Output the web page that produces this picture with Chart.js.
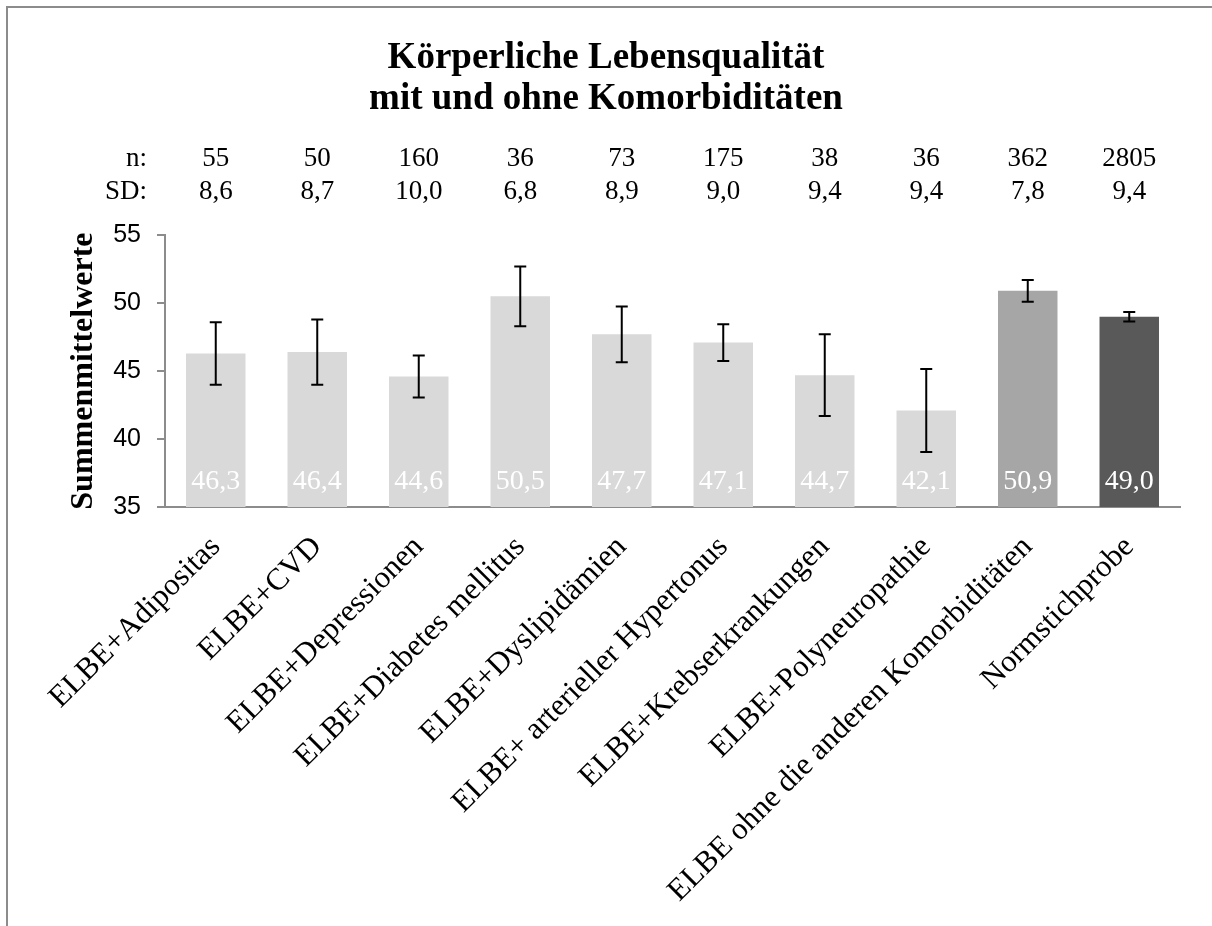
<!DOCTYPE html>
<html>
<head>
<meta charset="utf-8">
<script src="https://cdn.jsdelivr.net/npm/chart.js@4.4.1/dist/chart.umd.min.js"></script>
<style>
  html, body { margin: 0; padding: 0; background: #fff; overflow: hidden; }
</style>
</head>
<body>
<canvas id="chart" width="1212" height="926"></canvas>
<script>
'use strict';

// categories and values
const categories = [
  'ELBE+Adipositas',
  'ELBE+CVD',
  'ELBE+Depressionen',
  'ELBE+Diabetes mellitus',
  'ELBE+Dyslipidämien',
  'ELBE+ arterieller Hypertonus',
  'ELBE+Krebserkrankungen',
  'ELBE+Polyneuropathie',
  'ELBE ohne die anderen Komorbiditäten',
  'Normstichprobe'
];
const means = [46.3, 46.4, 44.6, 50.5, 47.7, 47.1, 44.7, 42.1, 50.9, 49.0];
const errors = [2.3, 2.4, 1.55, 2.2, 2.05, 1.35, 3.0, 3.05, 0.8, 0.35];
const nValues = ['55', '50', '160', '36', '73', '175', '38', '36', '362', '2805'];
const sdValues = ['8,6', '8,7', '10,0', '6,8', '8,9', '9,0', '9,4', '9,4', '7,8', '9,4'];
const yMin = 35;
const yMax = 55;
const yStep = 5;

const barColors = ['#d9d9d9', '#d9d9d9', '#d9d9d9', '#d9d9d9', '#d9d9d9',
  '#d9d9d9', '#d9d9d9', '#d9d9d9', '#a6a6a6', '#595959'];
const serif = "'Liberation Serif', 'Times New Roman', serif";
const sans = "'Liberation Sans', Arial, sans-serif";
const axisGray = '#8c8c8c';

// frame, error bars, value labels and the n / SD rows
const extras = {
  id: 'extras',
  beforeDraw(chart) {
    const ctx = chart.ctx;
    ctx.save();
    ctx.strokeStyle = axisGray;
    ctx.lineWidth = 2;
    ctx.beginPath();
    ctx.moveTo(7, chart.height);
    ctx.lineTo(7, 7);
    ctx.lineTo(chart.width, 7);
    ctx.stroke();
    ctx.restore();
  },
  afterDatasetsDraw(chart) {
    const ctx = chart.ctx;
    const y = chart.scales.y;
    const bars = chart.getDatasetMeta(0).data;
    const area = chart.chartArea;
    ctx.save();

    // error bars
    ctx.strokeStyle = '#000';
    ctx.lineWidth = 2;
    bars.forEach((bar, i) => {
      const top = y.getPixelForValue(means[i] + errors[i]);
      const bot = y.getPixelForValue(means[i] - errors[i]);
      ctx.beginPath();
      ctx.moveTo(bar.x, top);
      ctx.lineTo(bar.x, bot);
      ctx.moveTo(bar.x - 6, top);
      ctx.lineTo(bar.x + 6, top);
      ctx.moveTo(bar.x - 6, bot);
      ctx.lineTo(bar.x + 6, bot);
      ctx.stroke();
    });

    // values inside the bars
    ctx.fillStyle = '#fff';
    ctx.font = '28px ' + serif;
    ctx.textAlign = 'center';
    ctx.textBaseline = 'alphabetic';
    bars.forEach((bar, i) => {
      ctx.fillText(means[i].toFixed(1).replace('.', ','), bar.x, area.bottom - 18);
    });

    // n and SD rows above the plot
    ctx.fillStyle = '#000';
    ctx.font = '27px ' + serif;
    ctx.textBaseline = 'middle';
    bars.forEach((bar, i) => {
      ctx.fillText(nValues[i], bar.x, area.top - 76);
      ctx.fillText(sdValues[i], bar.x, area.top - 43);
    });
    ctx.textAlign = 'right';
    ctx.fillText('n:', 147, area.top - 76);
    ctx.fillText('SD:', 147, area.top - 43);
    ctx.restore();
  }
};

const ctx = document.getElementById('chart').getContext('2d');
new Chart(ctx, {
  type: 'bar',
  data: {
    labels: categories,
    datasets: [{
      data: means,
      backgroundColor: barColors,
      borderWidth: 0,
      barPercentage: 0.586,
      categoryPercentage: 1
    }]
  },
  options: {
    responsive: false,
    animation: false,
    devicePixelRatio: 1,
    layout: { padding: { left: 32, right: 32, top: 0, bottom: 0 } },
    plugins: {
      legend: { display: false },
      tooltip: { enabled: false },
      title: {
        display: true,
        text: ['Körperliche Lebensqualität', 'mit und ohne Komorbiditäten'],
        color: '#000',
        font: { family: serif, size: 37, weight: 'bold', lineHeight: 1.11 },
        padding: { top: 38, bottom: 115 }
      }
    },
    scales: {
      x: {
        grid: { display: false },
        border: { display: true, color: axisGray, width: 2 },
        ticks: {
          color: '#000',
          font: { family: serif, size: 31 },
          minRotation: 45,
          maxRotation: 45,
          autoSkip: false,
          padding: 14
        },
        afterFit(scale) { scale.height = 419; }
      },
      y: {
        min: yMin,
        max: yMax,
        ticks: {
          stepSize: yStep,
          color: '#000',
          font: { family: sans, size: 25 },
          padding: 16
        },
        grid: {
          drawOnChartArea: false,
          drawTicks: true,
          tickLength: 8,
          color: axisGray,
          lineWidth: 2
        },
        border: { display: true, color: axisGray, width: 2 },
        title: {
          display: true,
          text: 'Summenmittelwerte',
          color: '#000',
          font: { family: serif, size: 32, weight: 'bold' },
          padding: { top: 33, bottom: 0 }
        },
        afterFit(scale) { scale.width = 133; }
      }
    }
  },
  plugins: [extras]
});
</script>
</body>
</html>
